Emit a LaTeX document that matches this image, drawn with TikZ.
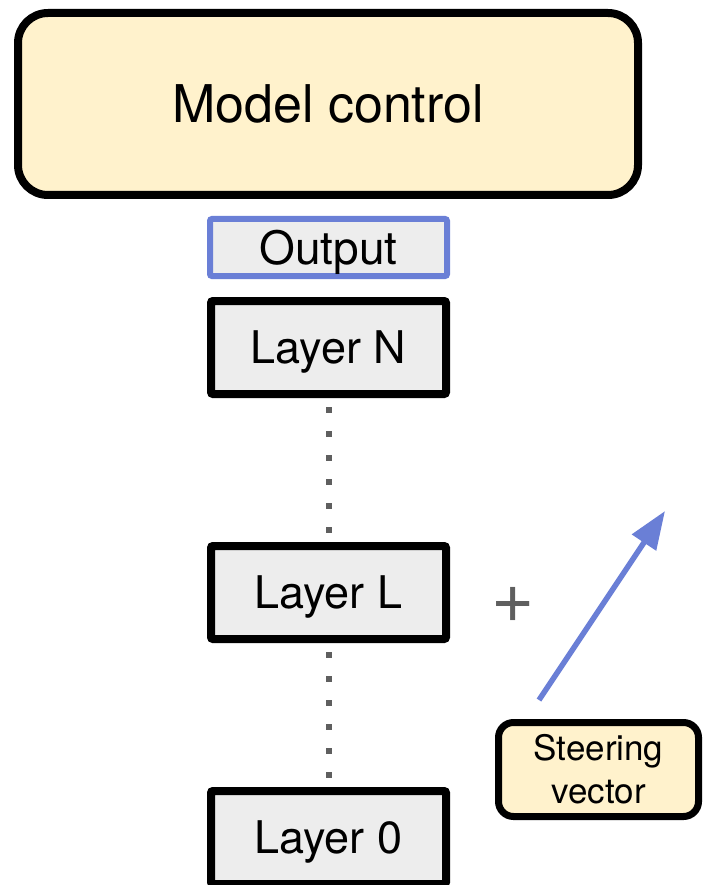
\documentclass[tikz,border=0pt]{standalone}
\usepackage{fontspec}
\setmainfont{TeX Gyre Heros}
\usepackage{tikz}
\usetikzlibrary{arrows.meta,calc}
\definecolor{paleyellow}{HTML}{FFF2CC}
\definecolor{boxgray}{HTML}{EDEDED}
\definecolor{steerblue}{HTML}{6A7FD6}
\definecolor{dotgray}{HTML}{5F5F5F}
\tikzset{
  layerbox/.style={draw=black,fill=boxgray,line width=8pt,rounded corners=2pt,
    minimum width=235pt,minimum height=93pt,inner sep=0pt,text depth=0pt,
    font={\fontsize{45pt}{54pt}\selectfont}},
  outbox/.style={layerbox,draw=steerblue,line width=6pt,
    minimum width=237pt,minimum height=57pt,font={\fontsize{46pt}{54pt}\selectfont}},
  dots/.style={dotgray,line width=6pt,dash pattern=on 6pt off 18pt}}

\begin{document}
\begin{tikzpicture}[x=1pt,y=-1pt]
\useasboundingbox (0,0) rectangle (706,885);
% boxes
\node [draw=black,fill=paleyellow,line width=8pt,rounded corners=30pt,
  minimum width=620pt,minimum height=182pt,inner sep=0pt,text depth=0pt,
  font={\fontsize{52pt}{60pt}\selectfont}] (control) at (328,104) {Model control};
\node [outbox] (output) at (328.5,247.5) {Output};
\node [layerbox] (layerN) at (328.5,347.5) {Layer N};
\node [layerbox] (layerL) at (328.5,592.5) {Layer L};
\node [layerbox] (layer0) at (328.5,837.5) {Layer 0};
% dotted gaps
\draw [dots] ($(layerN.south)+(0,9)$) -- ($(layerL.north)+(0,-6)$);
\draw [dots] ($(layerL.south)+(0,9)$) -- ($(layer0.north)+(0,-6)$);
% steering vector
\node [text=dotgray,inner sep=0pt,font={\fontsize{74pt}{74pt}\selectfont}] (plus) at (513,605) {+};
\node [draw=black,fill=paleyellow,line width=7pt,rounded corners=15pt,
  minimum width=200pt,minimum height=94pt,inner sep=0pt,align=center,
  font={\fontsize{35pt}{43pt}\selectfont}] (steer) at (598.5,769.5) {Steering\\vector};
\coordinate (vecstart) at (539,700);
\coordinate (vectip) at (665,511);
\draw [steerblue,line width=5.5pt,-{Triangle[length=38pt,width=28pt]}] (vecstart) -- (vectip);
\end{tikzpicture}
\end{document}
